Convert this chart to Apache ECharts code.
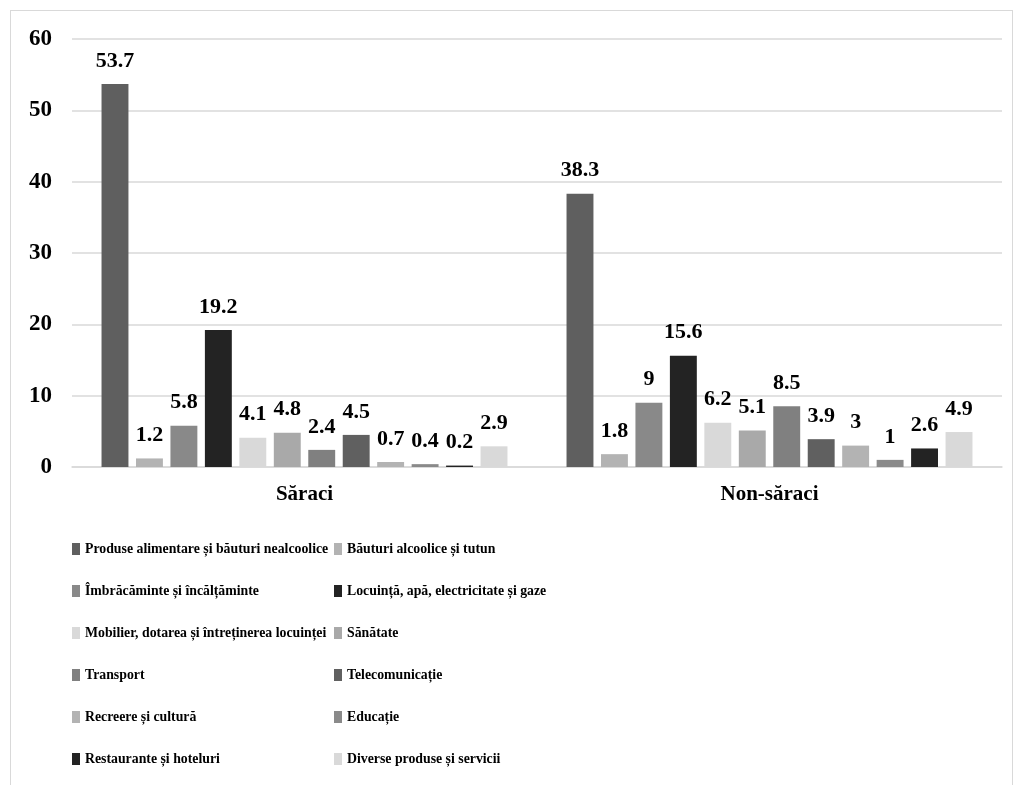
<!DOCTYPE html>
<html><head><meta charset="utf-8">
<script src="https://cdn.jsdelivr.net/npm/echarts@6/dist/echarts.min.js"></script>
<style>
html,body{margin:0;padding:0;background:#fff;}
#box{position:absolute;left:10px;top:10px;width:1003px;height:790px;border:1.5px solid #d9d9d9;box-sizing:border-box;}
#c{position:absolute;left:0;top:0;width:1022px;height:785px;}
</style></head>
<body><div id="box"></div><div id="c"></div>
<script>
const categories = ['Săraci', 'Non-săraci'];
const seriesNames = [
  'Produse alimentare și băuturi nealcoolice',
  'Băuturi alcoolice și tutun',
  'Îmbrăcăminte și încălțăminte',
  'Locuință, apă, electricitate și gaze',
  'Mobilier, dotarea și întreținerea locuinței',
  'Sănătate',
  'Transport',
  'Telecomunicație',
  'Recreere și cultură',
  'Educație',
  'Restaurante și hoteluri',
  'Diverse produse și servicii'
];
const saraci    = [53.7, 1.2, 5.8, 19.2, 4.1, 4.8, 2.4, 4.5, 0.7, 0.4, 0.2, 2.9];
const nonSaraci = [38.3, 1.8, 9, 15.6, 6.2, 5.1, 8.5, 3.9, 3, 1, 2.6, 4.9];
const yTicks = [0, 10, 20, 30, 40, 50, 60];
const colors = ['#5f5f5f','#b3b3b3','#898989','#232323','#d9d9d9','#a9a9a9','#808080','#606060','#b3b3b3','#8a8a8a','#232323','#d9d9d9'];

const font = 'Liberation Serif, Times New Roman, serif';
const chart = echarts.init(document.getElementById('c'));
const series = seriesNames.map((n, i) => ({
  name: n, type: 'bar',
  data: [saraci[i], nonSaraci[i]],
  itemStyle: {color: colors[i]},
  barGap: '28%', barCategoryGap: '12.7%',
  label: {show: true, position: 'top', distance: 12, color: '#000', fontFamily: font, fontWeight: 'bold', fontSize: 22}
}));
const legendCommon = {
  orient: 'vertical', itemWidth: 8, itemHeight: 12, itemGap: 28, icon: 'rect',
  textStyle: {fontFamily: font, fontWeight: 'bold', fontSize: 13.8, color: '#000'}
};
chart.setOption({
  animation: false,
  color: colors,
  grid: {left: 72, right: 20, top: 39, bottom: 318, containLabel: false},
  legend: [
    Object.assign({left: 67, top: 537, data: seriesNames.filter((_, i) => i % 2 === 0)}, legendCommon),
    Object.assign({left: 329, top: 537, data: seriesNames.filter((_, i) => i % 2 === 1)}, legendCommon)
  ],
  xAxis: {
    type: 'category', data: categories,
    axisLine: {lineStyle: {color: '#d9d9d9', width: 1.5}},
    axisTick: {show: false},
    axisLabel: {color: '#000', fontFamily: font, fontWeight: 'bold', fontSize: 21, margin: 17}
  },
  yAxis: {
    type: 'value', min: 0, max: 60, interval: 10,
    axisLine: {show: false}, axisTick: {show: false},
    splitLine: {lineStyle: {color: '#d9d9d9', width: 1.5}},
    axisLabel: {color: '#000', fontFamily: font, fontWeight: 'bold', fontSize: 23, margin: 20,
      formatter: v => yTicks.includes(v) ? String(v) : ''}
  },
  series: series
});
</script>
</body></html>
